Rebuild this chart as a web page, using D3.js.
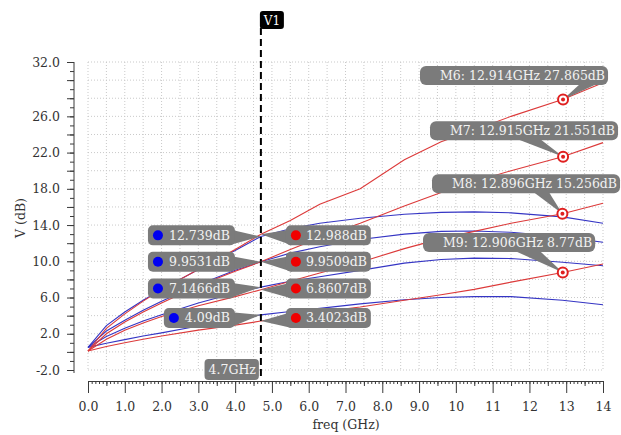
<!DOCTYPE html>
<html>
<head>
<meta charset="utf-8">
<script src="https://cdn.jsdelivr.net/npm/d3@7/dist/d3.min.js"></script>
<style>
  body { margin: 0; background: #fff; }
  svg { display: block; font-family: "DejaVu Serif", serif; }
</style>
</head>
<body>
<svg id="chart" width="621" height="435"></svg>
<script>
// ---- data ----
const freqs = [0, 0.5, 1, 1.5, 2, 3, 4, 4.7, 5.5, 6.3, 7.4, 8.6, 9.6, 10.5, 11.5, 12.9, 14];

const red1  = [0.1, 2.6, 4.2, 5.6, 6.9, 9.1, 11.3, 12.988, 14.5, 16.3, 18.0, 21.2, 23.2, 24.5, 26.0, 27.865, 29.7];
const red2  = [0.1, 2.0, 3.3, 4.4, 5.4, 7.3, 8.9, 9.9509, 11.3, 12.6, 14.2, 16.1, 17.6, 18.8, 20.0, 21.551, 23.1];
const red3  = [0.1, 1.4, 2.4, 3.2, 3.9, 5.1, 6.1, 6.8607, 7.8, 8.7, 9.9, 11.4, 12.5, 13.3, 14.2, 15.256, 16.4];
const red4  = [0.1, 0.6, 1.0, 1.4, 1.75, 2.4, 2.95, 3.4023, 3.9, 4.4, 4.95, 5.7, 6.3, 6.9, 7.7, 8.77, 9.7];

const blue1 = [0.5, 2.9, 4.4, 5.7, 6.9, 9.1, 11.2, 12.739, 13.6, 14.2, 14.75, 15.2, 15.4, 15.45, 15.35, 14.9, 14.2];
const blue2 = [0.5, 2.3, 3.5, 4.6, 5.6, 7.4, 9.0, 9.9531, 10.9, 11.6, 12.4, 13.0, 13.3, 13.35, 13.2, 12.7, 12.1];
const blue3 = [0.5, 1.7, 2.6, 3.4, 4.1, 5.4, 6.5, 7.1466, 7.8, 8.3, 9.0, 9.8, 10.2, 10.35, 10.3, 9.9, 9.5];
const blue4 = [0.5, 0.95, 1.35, 1.75, 2.1, 2.85, 3.55, 4.09, 4.45, 4.8, 5.3, 5.75, 6.0, 6.1, 6.1, 5.7, 5.2];

const xTickValues = [0, 1, 2, 3, 4, 5, 6, 7, 8, 9, 10, 11, 12, 13, 14];
const xTickLabels = ["0.0", "1.0", "2.0", "3.0", "4.0", "5.0", "6.0", "7.0", "8.0", "9.0", "10", "11", "12", "13", "14"];
const yTickValues = [32, 26, 22, 18, 14, 10, 6, 2, -2];
const yTickLabels = ["32.0", "26.0", "22.0", "18.0", "14.0", "10.0", "6.0", "2.0", "-2.0"];

const cursorName = "V1";
const cursorFreq = 4.7;
const cursorBlue = [12.739, 9.9531, 7.1466, 4.09];
const cursorRed  = [12.988, 9.9509, 6.8607, 3.4023];

const markerNames  = ["M6", "M7", "M8", "M9"];
const markerFreqs  = [12.914, 12.915, 12.896, 12.906];
const markerValues = [27.865, 21.551, 15.256, 8.77];

// ---- layout ----
const svg = d3.select("#chart");
const x = d3.scaleLinear().domain([0, 14]).range([88, 603]);
const y = d3.scaleLinear().domain([-2, 32]).range([370, 62]);
const axisY = 381, axisX = 74;
const gridColor = "#c9c9c9", axisColor = "#3a3a3a", textColor = "#333";
const boxFill = "#7b7b7b", boxText = "#f2f2f2";
const FONT = 12.5;

// grid
const grid = svg.append("g");
grid.selectAll("line.v").data(d3.range(0, 14.001, 0.5)).join("line")
  .attr("x1", d => x(d)).attr("x2", d => x(d))
  .attr("y1", y(32)).attr("y2", y(-2))
  .attr("stroke", gridColor).attr("stroke-dasharray", "1,2");
grid.selectAll("line.h").data(d3.range(-2, 32.001, 2)).join("line")
  .attr("x1", x(0)).attr("x2", x(14))
  .attr("y1", d => y(d)).attr("y2", d => y(d))
  .attr("stroke", gridColor).attr("stroke-dasharray", "1,2");

// x axis: minor, half and major ticks
function styleAxis(g) {
  g.selectAll("path, line").attr("stroke", axisColor);
  g.selectAll("text").attr("fill", textColor).attr("font-size", FONT).attr("font-family", "DejaVu Serif");
}
svg.append("g").attr("transform", `translate(0,${axisY})`)
  .call(d3.axisBottom(x).tickValues(d3.range(0, 14.001, 0.1)).tickSize(3).tickSizeOuter(0).tickFormat(""))
  .call(styleAxis);
svg.append("g").attr("transform", `translate(0,${axisY})`)
  .call(d3.axisBottom(x).tickValues(d3.range(0.5, 14, 1)).tickSize(5).tickSizeOuter(0).tickFormat(""))
  .call(g => g.select(".domain").remove())
  .call(styleAxis);
svg.append("g").attr("transform", `translate(0,${axisY})`)
  .call(d3.axisBottom(x).tickValues(xTickValues).tickSize(12).tickSizeOuter(0).tickPadding(9)
        .tickFormat((d, i) => xTickLabels[i]))
  .call(g => g.select(".domain").remove())
  .call(styleAxis);

// y axis
svg.append("g").attr("transform", `translate(${axisX},0)`)
  .call(d3.axisLeft(y).tickValues(d3.range(-2, 32.001, 1)).tickSize(4).tickSizeOuter(0).tickFormat(""))
  .call(g => g.select(".domain").attr("d", `M0,${y(32)}V${y(-2) + 3}`))
  .call(styleAxis);
svg.append("g").attr("transform", `translate(${axisX},0)`)
  .call(d3.axisLeft(y).tickValues(d3.range(-2, 32.001, 2)).tickSize(7).tickSizeOuter(0).tickFormat(""))
  .call(g => g.select(".domain").remove())
  .call(styleAxis);
svg.append("g").attr("transform", `translate(${axisX},0)`)
  .call(d3.axisLeft(y).tickValues(yTickValues).tickSize(0).tickPadding(14).tickFormat((d, i) => yTickLabels[i]))
  .call(g => g.select(".domain").remove())
  .call(styleAxis);

// axis titles
svg.append("text").attr("x", 346).attr("y", 429).attr("text-anchor", "middle")
  .attr("font-size", FONT).attr("fill", textColor).text("freq (GHz)");
svg.append("text").attr("transform", `translate(25,218) rotate(-90)`).attr("text-anchor", "middle")
  .attr("font-size", FONT).attr("fill", textColor).text("V (dB)");

// curves
const line = d3.line().x((d, i) => x(freqs[i])).y(d => y(d));
const series = [
  { values: blue1, color: "#3535c4" }, { values: blue2, color: "#3535c4" },
  { values: blue3, color: "#3535c4" }, { values: blue4, color: "#3535c4" },
  { values: red1, color: "#dc3a3a" }, { values: red2, color: "#dc3a3a" },
  { values: red3, color: "#dc3a3a" }, { values: red4, color: "#dc3a3a" }
];
svg.append("g").selectAll("path").data(series).join("path")
  .attr("d", d => line(d.values)).attr("fill", "none")
  .attr("stroke", d => d.color).attr("stroke-width", 1.1);

// cursor line
const cx = x(cursorFreq);
svg.append("line").attr("x1", cx).attr("x2", cx).attr("y1", 28).attr("y2", 379)
  .attr("stroke", "#000").attr("stroke-width", 2).attr("stroke-dasharray", "7,4");

// cursor name tag
const tag = svg.append("g");
tag.append("rect").attr("x", cx - 1).attr("y", 11).attr("width", 24).attr("height", 18).attr("rx", 3).attr("fill", "#000");
tag.append("text").attr("x", cx + 11).attr("y", 24.5).attr("text-anchor", "middle")
  .attr("font-size", 12).attr("fill", "#fff").text(cursorName);

// cursor frequency tag
const fTag = svg.append("g");
const fText = fTag.append("text").attr("x", cx - 5).attr("y", 373.5).attr("text-anchor", "end")
  .attr("font-size", FONT).attr("fill", boxText).text(cursorFreq + "GHz");
const fw = fText.node().getComputedTextLength();
fTag.insert("rect", "text").attr("x", cx - 9 - fw).attr("y", 359).attr("width", fw + 7).attr("height", 21)
  .attr("rx", 4).attr("fill", boxFill);

// cursor value labels
const labels = svg.append("g");
cursorBlue.forEach((bv, i) => {
  const rv = cursorRed[i];
  const rowY = y((bv + rv) / 2);
  const h = 20;
  // blue label on the left
  {
    const py = y(bv);
    const g = labels.append("g");
    const right = cx - 26;
    const t = g.append("text").attr("x", right - 5).attr("y", rowY + 4.5).attr("text-anchor", "end")
      .attr("font-size", FONT).attr("fill", boxText).text(bv + "dB");
    const w = t.node().getComputedTextLength();
    const left = right - 5 - w - 21;
    g.insert("polygon", "text")
      .attr("points", `${right - 6},${rowY - h / 2 + 4} ${cx},${py} ${right - 6},${rowY + h / 2}`)
      .attr("fill", boxFill);
    g.insert("rect", "text").attr("x", left).attr("y", rowY - h / 2).attr("width", right - left).attr("height", h)
      .attr("rx", 5).attr("fill", boxFill);
    g.append("circle").attr("cx", left + 10).attr("cy", rowY).attr("r", 5).attr("fill", "#0000f0");
  }
  // red label on the right
  {
    const py = y(rv);
    const g = labels.append("g");
    const left = cx + 25;
    const t = g.append("text").attr("x", left + 20).attr("y", rowY + 4.5)
      .attr("font-size", FONT).attr("fill", boxText).text(rv + "dB");
    const w = t.node().getComputedTextLength();
    const right = left + 20 + w + 4;
    g.insert("polygon", "text")
      .attr("points", `${left + 6},${rowY - h / 2 + 4} ${cx},${py} ${left + 6},${rowY + h / 2}`)
      .attr("fill", boxFill);
    g.insert("rect", "text").attr("x", left).attr("y", rowY - h / 2).attr("width", right - left).attr("height", h)
      .attr("rx", 5).attr("fill", boxFill);
    g.append("circle").attr("cx", left + 10).attr("cy", rowY).attr("r", 5).attr("fill", "#f00000");
  }
});

// marker labels: text start, label centre offset, pointer base (relative to marker)
const markerLayout = [
  { textX: 440, dy: -24, base: [18, 36] },
  { textX: 450, dy: -26, base: [-48, -24] },
  { textX: 452, dy: -30, base: [-30, -14] },
  { textX: 443, dy: -30, base: [-50, -24] }
];
const mk = svg.append("g");
markerNames.forEach((name, i) => {
  const mx = x(markerFreqs[i]), my = y(markerValues[i]);
  const L = markerLayout[i];
  const cy = my + L.dy, h = 19;
  const g = mk.append("g");
  const t = g.append("text").attr("x", L.textX).attr("y", cy + 4.5)
    .attr("font-size", FONT).attr("fill", boxText)
    .text(`${name}: ${markerFreqs[i]}GHz ${markerValues[i]}dB`);
  const w = t.node().getComputedTextLength();
  g.insert("polygon", "text")
    .attr("points", `${mx + L.base[0]},${cy + h / 2 - 2} ${mx},${my} ${mx + L.base[1]},${cy + h / 2 - 2}`)
    .attr("fill", boxFill);
  g.insert("rect", "text").attr("x", L.textX - 20).attr("y", cy - h / 2).attr("width", w + 23).attr("height", h)
    .attr("rx", 6).attr("fill", boxFill);
  g.append("circle").attr("cx", mx).attr("cy", my).attr("r", 5)
    .attr("fill", "#fff").attr("stroke", "#e02020").attr("stroke-width", 2);
  g.append("circle").attr("cx", mx).attr("cy", my).attr("r", 2).attr("fill", "#e02020");
});
</script>
</body>
</html>
